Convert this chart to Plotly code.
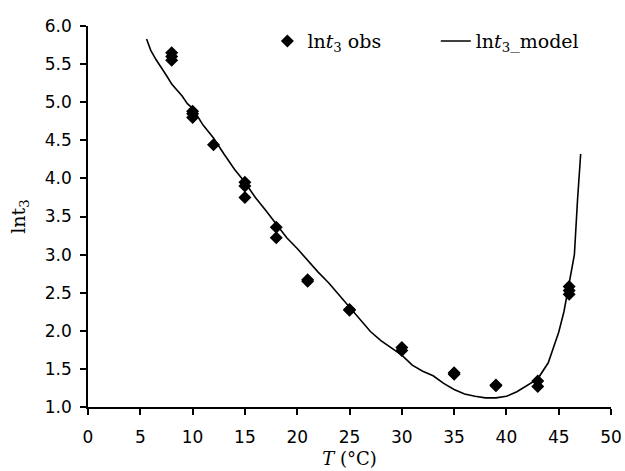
import plotly.graph_objects as go

# Observed data
obs_T = [8, 8, 8, 10, 10, 10, 12, 15, 15, 15, 18, 18, 21, 21, 25, 25, 30, 30,
         35, 35, 39, 39, 43, 43, 46, 46, 46]
obs_ln = [5.65, 5.60, 5.55, 4.88, 4.85, 4.80, 4.44, 3.95, 3.90, 3.75, 3.36, 3.22,
          2.67, 2.65, 2.28, 2.27, 1.78, 1.74, 1.45, 1.43, 1.29, 1.28, 1.34, 1.27,
          2.58, 2.53, 2.48]

# Model curve
model_T = [5.6, 6.0, 6.5, 7.0, 7.5, 8.0, 8.5, 9.0, 9.5, 10.0, 11.0, 12.0, 13.0,
           14.0, 15.0, 16.0, 17.0, 18.0, 19.0, 20.0, 21.0, 22.0, 23.0, 24.0, 25.0,
           26.0, 27.0, 28.0, 29.0, 30.0, 31.0, 32.0, 33.0, 34.0, 35.0, 36.0, 37.0,
           38.0, 39.0, 40.0, 41.0, 42.0, 43.0, 44.0, 44.5, 45.0, 45.5, 46.0, 46.5,
           46.8, 47.1]
model_ln = [5.83, 5.68, 5.56, 5.46, 5.35, 5.24, 5.16, 5.08, 4.98, 4.92, 4.70, 4.53,
            4.32, 4.12, 3.95, 3.75, 3.58, 3.40, 3.22, 3.08, 2.92, 2.77, 2.63, 2.47,
            2.31, 2.16, 1.99, 1.87, 1.77, 1.68, 1.55, 1.47, 1.41, 1.31, 1.23, 1.17,
            1.14, 1.12, 1.12, 1.14, 1.20, 1.28, 1.37, 1.58, 1.78, 1.98, 2.25, 2.62,
            3.00, 3.72, 4.32]

x_ticks = [0, 5, 10, 15, 20, 25, 30, 35, 40, 45, 50]
y_ticks = [1.0, 1.5, 2.0, 2.5, 3.0, 3.5, 4.0, 4.5, 5.0, 5.5, 6.0]

serif = "DejaVu Serif"
sans = "DejaVu Sans"

fig = go.Figure()
fig.add_trace(go.Scatter(
    x=obs_T, y=obs_ln, mode="markers",
    marker=dict(symbol="diamond", size=10, color="black"),
    name="ln<i>t</i><sub>3</sub> obs", legend="legend",
))
fig.add_trace(go.Scatter(
    x=model_T, y=model_ln, mode="lines",
    line=dict(color="black", width=1.6),
    name="ln<i>t</i><sub>3</sub>_model", legend="legend2",
))

legend_style = dict(
    orientation="h", y=1.01, xanchor="left", yanchor="top",
    font=dict(family=serif, size=19, color="black"),
    bgcolor="rgba(0,0,0,0)", itemwidth=30,
)

fig.update_layout(
    width=625, height=471,
    margin=dict(l=88, r=14, t=26, b=64),
    paper_bgcolor="white", plot_bgcolor="white",
    showlegend=True,
    legend=dict(x=0.343, **legend_style),
    legend2=dict(x=0.665, **legend_style),
    xaxis=dict(
        range=[0, 50], tickvals=x_ticks, ticktext=[str(v) for v in x_ticks],
        showgrid=False, zeroline=False, showline=True, linecolor="black", linewidth=1.5,
        ticks="outside", ticklen=6, tickwidth=1.5, tickcolor="black", automargin=False,
        ticklabelstandoff=8,
        tickfont=dict(family=sans, size=17, color="black"),
        title=dict(text="<i>T</i> (°C)", font=dict(family=serif, size=18, color="black"), standoff=6),
    ),
    yaxis=dict(
        range=[1.0, 6.0], tickvals=y_ticks, ticktext=[f"{v:.1f}" for v in y_ticks],
        showgrid=False, zeroline=False, showline=True, linecolor="black", linewidth=1.5,
        ticks="outside", ticklen=6, tickwidth=1.5, tickcolor="black", automargin=False,
        ticklabelstandoff=5,
        tickfont=dict(family=sans, size=17, color="black"),
        title=dict(text="lnt<sub>3</sub>", font=dict(family=serif, size=19, color="black"), standoff=14),
    ),
)

fig.write_html("out.html", config={"displayModeBar": False},
               post_script="document.body.style.margin='0';")
